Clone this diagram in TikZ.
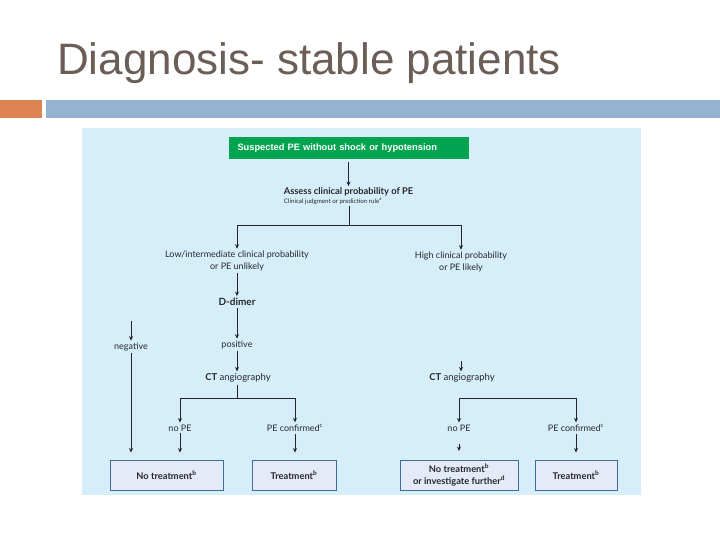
\documentclass[tikz,border=0pt]{standalone}
\usepackage{fontspec}
\setmainfont{Lato}
\newfontfamily\arialf{Liberation Sans}
\usetikzlibrary{arrows.meta}
\definecolor{titlec}{RGB}{107,94,86}
\definecolor{orangec}{RGB}{221,132,82}
\definecolor{barc}{RGB}{149,179,208}
\definecolor{panelc}{RGB}{213,238,250}
\definecolor{greenc}{RGB}{0,163,80}
\definecolor{boxfill}{RGB}{228,234,246}
\definecolor{boxline}{RGB}{60,110,165}
\definecolor{linec}{RGB}{35,35,40}
\definecolor{textc}{RGB}{40,40,45}
\begin{document}
\begin{tikzpicture}[x=1pt,y=-1pt,
  ln/.style={draw=linec, line width=0.8pt},
  arr/.style={draw=linec, line width=0.8pt, -{Stealth[length=4.5pt,width=4pt]}},
  txt/.style={font=\fontsize{9}{12}\selectfont, text=textc, align=center, inner sep=2pt},
  bld/.style={font=\bfseries\fontsize{10}{12}\selectfont, text=textc, align=center, inner sep=2pt},
  ctn/.style={font=\fontsize{9.5}{12}\selectfont, text=textc, align=center, inner sep=2pt},
  outbox/.style={draw=boxline, line width=0.9pt, fill=boxfill, minimum height=30, align=center,
     font=\bfseries\fontsize{9.3}{11.5}\selectfont, text=textc, inner sep=1pt},
  into/.style={arr, shorten >=7pt}]
\useasboundingbox (0,0) rectangle (720,540);
\fill[white] (0,0) rectangle (720,540);
% title and bars
\node[anchor=base west, text=titlec, font=\arialf\fontsize{44}{50}\selectfont, inner sep=0] (title) at (57,75) {Diagnosis- stable patients};
\fill[orangec] (0,100) rectangle (42,118);
\fill[barc] (46,100) rectangle (720,118);
\fill[panelc] (82,128) rectangle (641,495);
% top
\node[fill=greenc, text=white, font=\arialf\bfseries\fontsize{9.3}{11}\selectfont, text width=222, align=left, inner xsep=9, inner ysep=0, minimum height=22] (green) at (348.5,148) {Suspected PE without shock or hypotension};
\node[font=\bfseries\fontsize{9.3}{11}\selectfont, text=textc, inner sep=1.5pt] (assessA) at (348.5,192) {Assess clinical probability of PE};
\node[font=\fontsize{6.2}{8}\selectfont, text=textc, inner sep=1.5pt] (assessB) at (333,201.5) {Clinical judgment or prediction rule\textsuperscript{a}};
\draw[arr, shorten <=3pt] (green) -- (assessA);
\coordinate (s1) at (349,225);
\node[txt] (low) at (237,261) {Low/intermediate clinical probability\\or PE unlikely};
\node[txt] (high) at (461,262) {High clinical probability\\or PE likely};
\draw[ln] (s1 |- assessB.south) -- (s1);
\draw[arr] (s1) -| (low);
\draw[arr] (s1) -| (high);
% left branch
\node[bld] (ddimer) at (237,302) {D-dimer};
\node[txt] (positive) at (237,345) {positive};
\node[ctn] (ct1) at (238,378) {\textbf{CT} angiography};
\draw[arr] (low) -- (ddimer);
\draw[arr] (ddimer) -- (positive);
\draw[arr] (positive) -- (positive |- ct1.north);
\coordinate (negtop) at (131,321);
\node[txt] (negative) at (131,347) {negative};
\draw[arr] (negtop) -- (negative);
\coordinate (s2) at (237,398);
\node[txt] (nope1) at (180,428) {no PE};
\node[txt] (pec1) at (295,428) {PE confirmed\textsuperscript{c}};
\draw[ln] (s2 |- ct1.south) -- (s2);
\draw[arr] (s2) -| (nope1);
\draw[arr] (s2) -| (pec1);
\node[outbox, minimum width=113] (b1) at (166.5,475) {No treatment\textsuperscript{b}};
\node[outbox, minimum width=84] (b2) at (294,475) {Treatment\textsuperscript{b}};
\draw[into] (negative) -- (negative |- b1.north);
\draw[into] (nope1) -- (nope1 |- b1.north);
\draw[into] (pec1) -- (pec1 |- b2.north);
% right branch
\coordinate (ct2top) at (461,361);
\node[ctn] (ct2) at (462,378) {\textbf{CT} angiography};
\draw[arr] (ct2top) -- (ct2top |- ct2.north);
\coordinate (r1) at (459,398);
\coordinate (r2) at (576,398);
\node[txt] (nope2) at (459,428) {no PE};
\node[txt] (pec2) at (576,428) {PE confirmed\textsuperscript{c}};
\draw[ln] (r1) -- (r2);
\draw[arr] (r1) -- (nope2);
\draw[arr] (r2) -- (pec2);
\coordinate (n2a) at (459,444);
\coordinate (n2b) at (459,451);
\draw[arr] (n2a) -- (n2b);
\node[outbox, minimum width=118] (b3) at (459,475) {No treatment\textsuperscript{b}\\or investigate further\textsuperscript{d}};
\node[outbox, minimum width=82] (b4) at (576,475) {Treatment\textsuperscript{b}};
\draw[into] (pec2) -- (pec2 |- b4.north);
\end{tikzpicture}
\end{document}
